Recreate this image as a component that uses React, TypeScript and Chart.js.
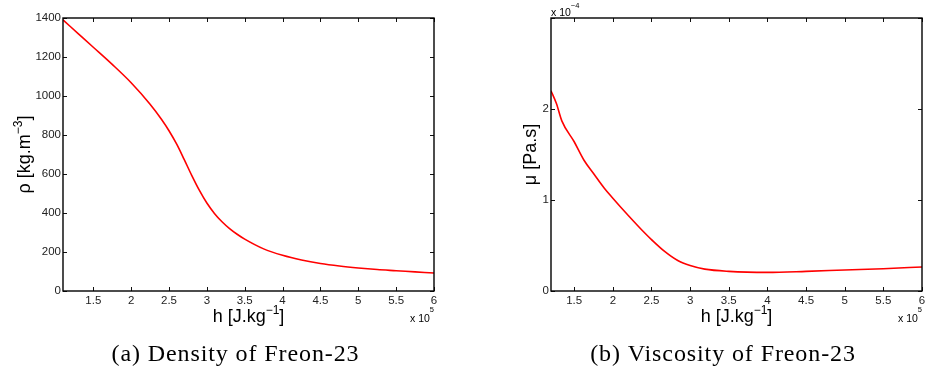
import { useEffect, useRef } from "react";
import { Chart, registerables } from "chart.js";

Chart.register(...registerables);

// ---- data (h in 1e5 J/kg) ----
const densityH = [1.1, 1.3, 1.5, 1.75, 2.0, 2.25, 2.4, 2.5, 2.6, 2.7, 2.8, 2.9, 3.0, 3.1, 3.2, 3.3, 3.4, 3.5, 3.75, 4.0, 4.25, 4.5, 4.75, 5.0, 5.25, 5.5, 5.75, 6.0];
const densityRho = [1390, 1320, 1250, 1162, 1068, 958, 881, 822, 754, 675, 593, 517, 451, 398, 355, 320, 291, 266, 216, 183, 159, 141, 128, 118, 110, 104, 98, 92];

// viscosity in 1e-4 Pa.s
const viscH = [1.2, 1.27, 1.34, 1.5, 1.625, 1.76, 1.89, 2.0, 2.2, 2.41, 2.5, 2.67, 2.84, 3.0, 3.19, 3.5, 4.0, 4.5, 5.0, 5.5, 6.0];
const viscMu = [2.2, 2.06, 1.87, 1.64, 1.44, 1.28, 1.13, 1.02, 0.83, 0.64, 0.565, 0.435, 0.335, 0.28, 0.24, 0.216, 0.205, 0.216, 0.231, 0.245, 0.264];

const hTicks = [1.5, 2, 2.5, 3, 3.5, 4, 4.5, 5, 5.5, 6];
const rhoTicks = [0, 200, 400, 600, 800, 1000, 1200, 1400];
const muTicks = [0, 1, 2, 3];
const muTickLabels = ["0", "1", "2", ""];

const SANS = '"Liberation Sans", Arial, Helvetica, sans-serif';
const SERIF = '"Liberation Serif", "Times New Roman", serif';

type Part = { t: string; size: number; dy: number };

function drawRich(
  ctx: CanvasRenderingContext2D,
  parts: Part[],
  x: number,
  y: number,
  align: "left" | "center" | "right",
  rot: number
) {
  ctx.save();
  ctx.translate(x, y);
  ctx.rotate(rot);
  ctx.textBaseline = "alphabetic";
  ctx.textAlign = "left";
  let w = 0;
  for (const p of parts) {
    ctx.font = `${p.size}px ${SANS}`;
    w += ctx.measureText(p.t).width;
  }
  let cx = align === "center" ? -w / 2 : align === "right" ? -w : 0;
  for (const p of parts) {
    ctx.font = `${p.size}px ${SANS}`;
    ctx.fillText(p.t, cx, -p.dy);
    cx += ctx.measureText(p.t).width;
  }
  ctx.restore();
}

const decorPlugin = {
  id: "decor",
  afterDraw(chart: any, _args: any, opts: any) {
    const ctx: CanvasRenderingContext2D = chart.ctx;
    const a = chart.chartArea;
    const xs = chart.scales.x;
    const ys = chart.scales.y;
    ctx.save();
    // inward ticks
    ctx.strokeStyle = "#111";
    ctx.lineWidth = 1;
    const tl = 4;
    ctx.beginPath();
    for (const t of xs.ticks) {
      const px = Math.round(xs.getPixelForValue(t.value)) + 0.5;
      ctx.moveTo(px, a.bottom);
      ctx.lineTo(px, a.bottom - tl);
      ctx.moveTo(px, a.top);
      ctx.lineTo(px, a.top + tl);
    }
    for (const t of ys.ticks) {
      const py = Math.round(ys.getPixelForValue(t.value)) + 0.5;
      ctx.moveTo(a.left, py);
      ctx.lineTo(a.left + tl, py);
      ctx.moveTo(a.right, py);
      ctx.lineTo(a.right - tl, py);
    }
    ctx.stroke();
    // box
    ctx.strokeStyle = "#000";
    ctx.lineWidth = 1.4;
    ctx.strokeRect(a.left, a.top, a.right - a.left, a.bottom - a.top);

    ctx.fillStyle = "#000";
    // x title
    drawRich(ctx, opts.xTitle, (a.left + a.right) / 2, 322, "center", 0);
    // y title
    drawRich(ctx, opts.yTitle, opts.yTitleX, (a.top + a.bottom) / 2, "center", -Math.PI / 2);
    // exponent labels
    drawRich(ctx, opts.xExp, a.right, 322, "right", 0);
    if (opts.yExp) drawRich(ctx, opts.yExp, a.left, 16, "left", 0);
    // caption
    ctx.font = `24px ${SERIF}`;
    (ctx as any).letterSpacing = "0.9px";
    ctx.textAlign = "center";
    ctx.textBaseline = "alphabetic";
    ctx.fillText(opts.caption, opts.captionX, 361);
    ctx.restore();
  },
};

const xTitleParts: Part[] = [
  { t: "h [J.kg", size: 18, dy: 0 },
  { t: "\u22121", size: 12, dy: 8 },
  { t: "]", size: 18, dy: 0 },
];
const xExpParts: Part[] = [
  { t: "x 10", size: 10.5, dy: 0 },
  { t: "5", size: 7.5, dy: 10 },
];

function makeConfig(
  hs: number[],
  vals: number[],
  xMin: number,
  yMax: number,
  yTickVals: number[],
  yLabel: (v: number) => string,
  yAxisWidth: number,
  padRight: number,
  decor: any
): any {
  const tickFont = { family: SANS, size: 11.5 };
  return {
    type: "line",
    data: {
      datasets: [
        {
          data: hs.map((x, i) => ({ x, y: vals[i] })),
          borderColor: "#ff0000",
          borderWidth: 1.6,
          pointRadius: 0,
          fill: false,
          cubicInterpolationMode: "monotone",
        },
      ],
    },
    options: {
      animation: false,
      responsive: false,
      maintainAspectRatio: false,
      layout: { padding: { top: 18, right: padRight, left: 0, bottom: 0 } },
      plugins: {
        legend: { display: false },
        tooltip: { enabled: false },
        decor,
      },
      scales: {
        x: {
          type: "linear",
          min: xMin,
          max: 6,
          afterBuildTicks: (s: any) => {
            s.ticks = hTicks.map((v) => ({ value: v }));
          },
          afterFit: (s: any) => {
            s.height = 81;
            s.paddingLeft = 0;
            s.paddingRight = 0;
          },
          grid: { display: false, drawTicks: false },
          border: { display: false },
          ticks: {
            padding: 3,
            font: tickFont,
            color: "#222",
            maxRotation: 0,
            autoSkip: false,
            callback: (v: number) => String(v),
          },
        },
        y: {
          type: "linear",
          min: 0,
          max: yMax,
          afterBuildTicks: (s: any) => {
            s.ticks = yTickVals.map((v) => ({ value: v }));
          },
          afterFit: (s: any) => {
            s.width = yAxisWidth;
            s.paddingTop = 0;
            s.paddingBottom = 0;
          },
          grid: { display: false, drawTicks: false },
          border: { display: false },
          ticks: {
            padding: 2,
            font: tickFont,
            color: "#222",
            autoSkip: false,
            callback: (v: number) => yLabel(v),
          },
        },
      },
    },
    plugins: [decorPlugin],
  };
}

export default function App() {
  const refA = useRef<HTMLCanvasElement | null>(null);
  const refB = useRef<HTMLCanvasElement | null>(null);

  useEffect(() => {
    const chartA = new Chart(
      refA.current as HTMLCanvasElement,
      makeConfig(
        densityH,
        densityRho,
        1.1,
        1400,
        rhoTicks,
        (v) => String(v),
        63,
        28,
        {
          xTitle: xTitleParts,
          yTitle: [
            { t: "\u03c1 [kg.m", size: 18, dy: 0 },
            { t: "\u22123", size: 12, dy: 8 },
            { t: "]", size: 18, dy: 0 },
          ],
          yTitleX: 29.5,
          xExp: xExpParts,
          caption: "(a) Density of Freon-23",
          captionX: 235.5,
        }
      )
    );
    const chartB = new Chart(
      refB.current as HTMLCanvasElement,
      makeConfig(
        viscH,
        viscMu,
        1.2,
        3,
        muTicks,
        (v) => muTickLabels[muTicks.indexOf(v)] ?? String(v),
        89,
        3,
        {
          xTitle: xTitleParts,
          yTitle: [{ t: "\u03bc [Pa.s]", size: 18, dy: 0 }],
          yTitleX: 74,
          xExp: xExpParts,
          yExp: [
            { t: "x 10", size: 10.5, dy: 0 },
            { t: "\u22124", size: 7.5, dy: 8 },
          ],
          caption: "(b) Viscosity of Freon-23",
          captionX: 261,
        }
      )
    );
    return () => {
      chartA.destroy();
      chartB.destroy();
    };
  }, []);

  return (
    <div style={{ position: "absolute", left: 0, top: 0, width: 925, height: 372, background: "#fff" }}>
      <canvas ref={refA} width={462} height={372} style={{ position: "absolute", left: 0, top: 0, width: 462, height: 372 }} />
      <canvas ref={refB} width={463} height={372} style={{ position: "absolute", left: 462, top: 0, width: 463, height: 372 }} />
    </div>
  );
}
